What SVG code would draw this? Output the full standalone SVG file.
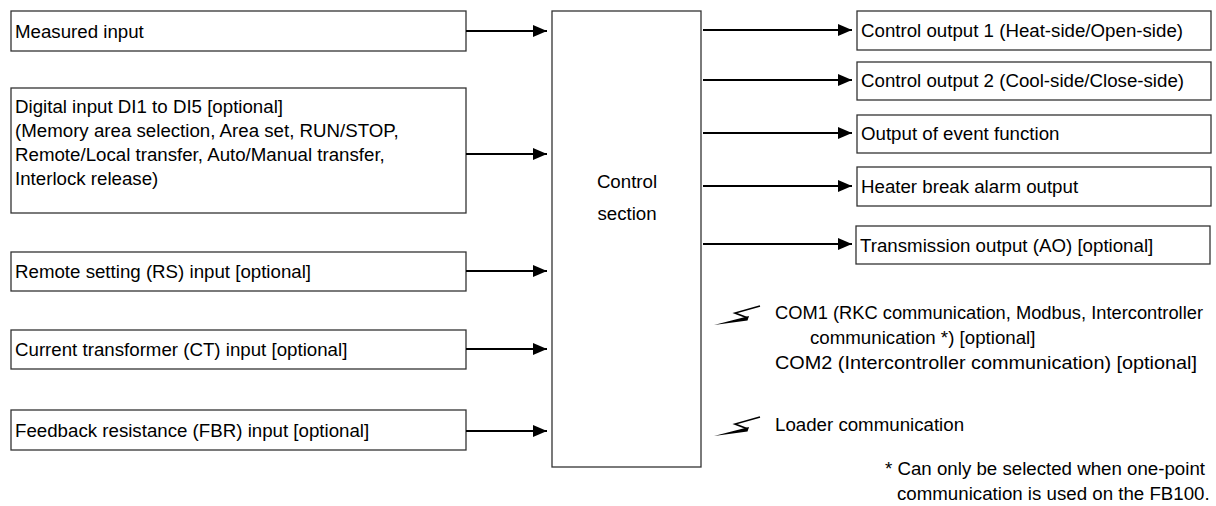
<svg xmlns="http://www.w3.org/2000/svg" width="1216" height="506" viewBox="0 0 1216 506">
<defs>
<marker id="ah" markerWidth="14" markerHeight="12" refX="14" refY="6" orient="auto" markerUnits="userSpaceOnUse">
<path d="M0,0 L14,6 L0,12 Z" fill="#000"/>
</marker>
<g id="bolt">
<path d="M0,0 L35,-9 L33.5,-4.5 Z" fill="#000"/>
<path d="M34,-7 L21,-12 L46,-19" fill="none" stroke="#000" stroke-width="1.6" stroke-linejoin="miter"/>
</g>
</defs>
<style>
rect.box{fill:#fff;stroke:#333;stroke-width:1.3}
text{font-family:"Liberation Sans",Arial,sans-serif;font-size:18.7px;fill:#000}
.conn line{stroke:#000;stroke-width:1.8;marker-end:url(#ah)}
</style>
<rect width="1216" height="506" fill="#fff"/>
<g id="measured"><rect class="box" x="11" y="11" width="455" height="40"/><text x="15" y="38">Measured input</text></g>
<g id="digital"><rect class="box" x="11" y="88" width="455" height="125"/>
<text x="15" y="113">Digital input DI1 to DI5 [optional]</text>
<text x="15" y="137">(Memory area selection, Area set, RUN/STOP,</text>
<text x="15" y="161">Remote/Local transfer, Auto/Manual transfer,</text>
<text x="15" y="185">Interlock release)</text>
</g>
<g id="remote"><rect class="box" x="11" y="252" width="455" height="39"/><text x="15" y="278">Remote setting (RS) input [optional]</text></g>
<g id="ct"><rect class="box" x="11" y="330" width="455" height="39"/><text x="15" y="356">Current transformer (CT) input [optional]</text></g>
<g id="fbr"><rect class="box" x="11" y="410" width="455" height="40"/><text x="15" y="437">Feedback resistance (FBR) input [optional]</text></g>
<g id="control"><rect class="box" x="552" y="11" width="149" height="456"/>
<text x="627" y="188" text-anchor="middle">Control</text>
<text x="627" y="220" text-anchor="middle">section</text></g>
<g id="out1"><rect class="box" x="857" y="11" width="354" height="39"/><text x="861" y="37">Control output 1 (Heat-side/Open-side)</text></g>
<g id="out2"><rect class="box" x="857" y="62" width="354" height="38"/><text x="861" y="87">Control output 2 (Cool-side/Close-side)</text></g>
<g id="out3"><rect class="box" x="857" y="115" width="354" height="38"/><text x="861" y="140">Output of event function</text></g>
<g id="out4"><rect class="box" x="857" y="167" width="354" height="39"/><text x="861" y="193">Heater break alarm output</text></g>
<g id="out5"><rect class="box" x="856" y="226" width="354" height="38"/><text x="860" y="252">Transmission output (AO) [optional]</text></g>
<g class="conn" id="connectors">
<line x1="466" y1="31" x2="547" y2="31"/>
<line x1="466" y1="154" x2="547" y2="154"/>
<line x1="466" y1="271" x2="547" y2="271"/>
<line x1="466" y1="349" x2="547" y2="349"/>
<line x1="466" y1="431" x2="547" y2="431"/>
<line x1="703" y1="30" x2="852" y2="30"/>
<line x1="703" y1="80" x2="852" y2="80"/>
<line x1="703" y1="133" x2="852" y2="133"/>
<line x1="703" y1="186" x2="852" y2="186"/>
<line x1="703" y1="244" x2="852" y2="244"/>
</g>
<g id="com">
<use href="#bolt" x="714" y="325"/>
<text x="775" y="319" textLength="428" lengthAdjust="spacingAndGlyphs">COM1 (RKC communication, Modbus, Intercontroller</text>
<text x="810" y="344">communication *) [optional]</text>
<text x="775" y="369" textLength="422" lengthAdjust="spacingAndGlyphs">COM2 (Intercontroller communication) [optional]</text>
</g>
<g id="loader">
<use href="#bolt" x="714" y="436"/>
<text x="775" y="431">Loader communication</text>
</g>
<g id="note">
<text x="885" y="475">* Can only be selected when one-point</text>
<text x="897" y="500">communication is used on the FB100.</text>
</g>
</svg>
